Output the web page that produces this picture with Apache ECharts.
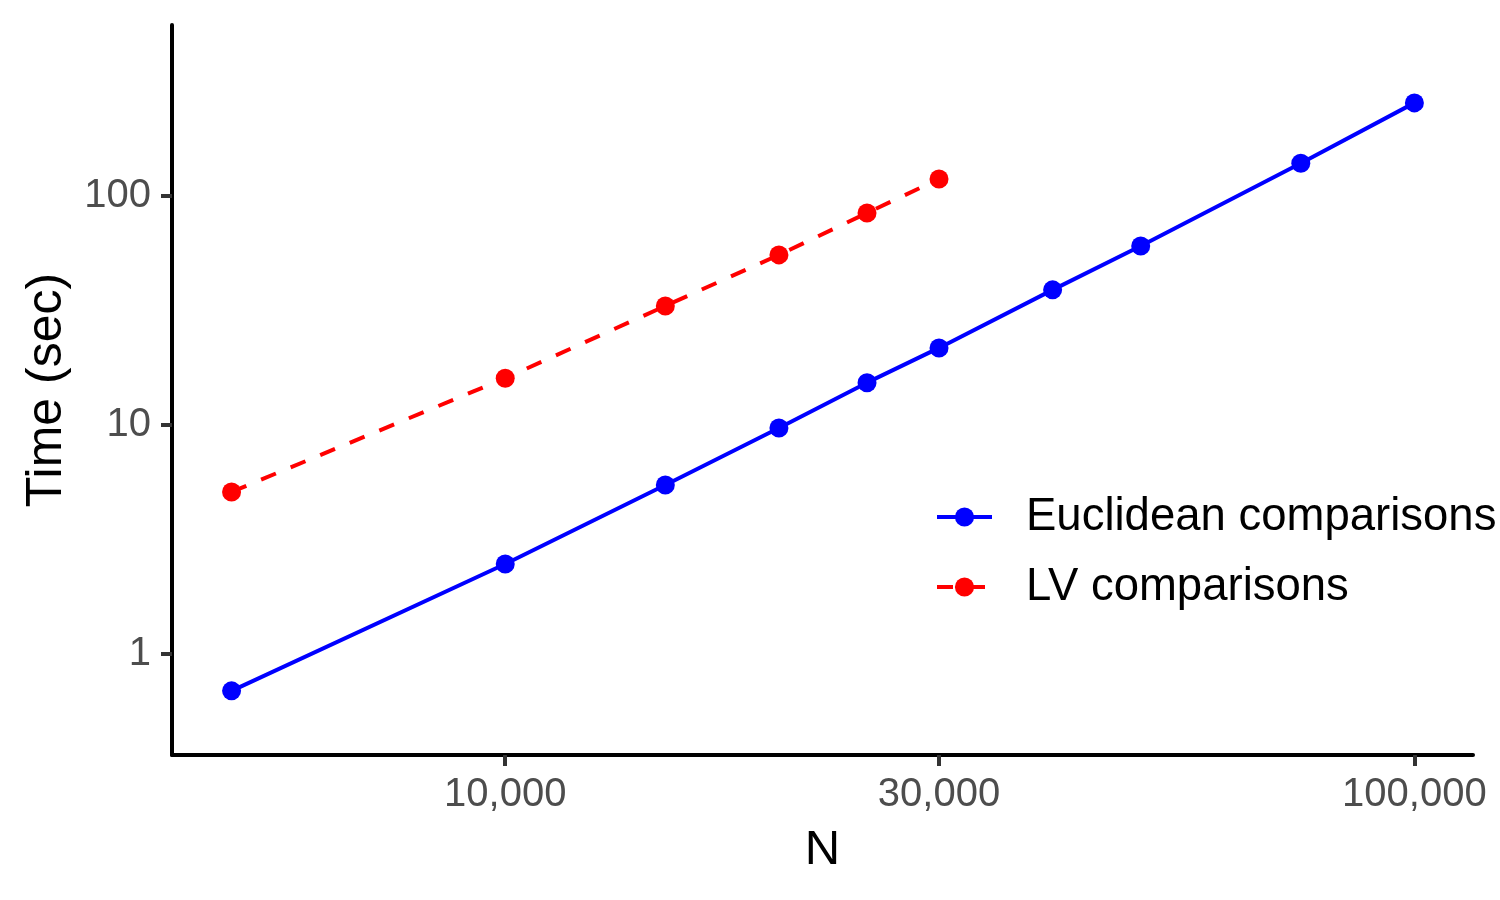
<!DOCTYPE html>
<html lang="en">
<head>
    <meta charset="UTF-8">
    <title>Time vs N</title>
    <script src="https://fastly.jsdelivr.net/npm/echarts@6.0.0/dist/echarts.min.js"></script>
    <style>
        body { margin: 0; background: #fff; }
        #chart { width: 1500px; height: 900px; }
    </style>
</head>
<body>
    <div id="chart"></div>
    <script>
        // data
        var nEuclid = [5000, 10000, 15000, 20000, 25000, 30000, 40000, 50000, 75000, 100000];
        var tEuclid = [0.69, 2.47, 5.47, 9.7, 15.3, 21.7, 38.9, 60.5, 139, 255];
        var nLV = [5000, 10000, 15000, 20000, 25000, 30000];
        var tLV = [5.1, 16.0, 33.1, 55.3, 84.3, 118.6];
        var xTicks = [10000, 30000, 100000];
        var yTicks = [1, 10, 100];

        function pairs(xs, ys) {
            return xs.map(function (x, i) { return [x, ys[i]]; });
        }

        var font = 'Liberation Sans, Arial, sans-serif';
        var chart = echarts.init(document.getElementById('chart'));

        chart.setOption({
            animation: false,
            backgroundColor: '#ffffff',
            grid: { left: 172, right: 27, top: 25, bottom: 145 },
            legend: {
                left: 935,
                top: 492,
                padding: 0,
                orient: 'vertical',
                itemWidth: 55,
                itemHeight: 24,
                itemGap: 20,
                lineStyle: { width: 4 },
                textStyle: { fontFamily: font, fontSize: 45.5, color: '#000', lineHeight: 50, padding: [0, 0, 0, 29] },
                data: ['Euclidean comparisons', 'LV comparisons']
            },
            xAxis: {
                type: 'log',
                min: 4300,
                max: 116000,
                name: 'N',
                nameLocation: 'middle',
                nameGap: 71,
                nameTextStyle: { fontFamily: font, fontSize: 49, color: '#000' },
                axisLine: { lineStyle: { color: '#000', width: 4 } },
                axisTick: { length: 11, lineStyle: { color: '#333', width: 4 }, customValues: xTicks },
                axisLabel: {
                    customValues: xTicks,
                    margin: 20,
                    fontFamily: font, fontSize: 40, color: '#4d4d4d',
                    formatter: function (v) { return Number(v).toLocaleString('en-US'); }
                },
                splitLine: { show: false },
                minorTick: { show: false }
            },
            yAxis: {
                type: 'log',
                min: 0.362,
                max: 558,
                name: 'Time (sec)',
                nameLocation: 'middle',
                nameRotate: 90,
                nameGap: 100,
                nameTextStyle: { fontFamily: font, fontSize: 50, color: '#000' },
                axisLine: { lineStyle: { color: '#000', width: 4 } },
                axisTick: { length: 11, lineStyle: { color: '#333', width: 4 }, customValues: yTicks },
                axisLabel: {
                    customValues: yTicks,
                    margin: 21,
                    fontFamily: font, fontSize: 40, color: '#4d4d4d',
                    formatter: function (v) { return String(Number(v)); }
                },
                splitLine: { show: false },
                minorTick: { show: false }
            },
            series: [
                {
                    name: 'Euclidean comparisons',
                    type: 'line',
                    data: pairs(nEuclid, tEuclid),
                    symbol: 'circle',
                    symbolSize: 19,
                    itemStyle: { color: '#0000ff' },
                    lineStyle: { color: '#0000ff', width: 4 }
                },
                {
                    name: 'LV comparisons',
                    type: 'line',
                    data: pairs(nLV, tLV),
                    symbol: 'circle',
                    symbolSize: 19,
                    itemStyle: { color: '#ff0000' },
                    lineStyle: { color: '#ff0000', width: 4, type: [16, 16] }
                }
            ]
        });
    </script>
</body>
</html>
